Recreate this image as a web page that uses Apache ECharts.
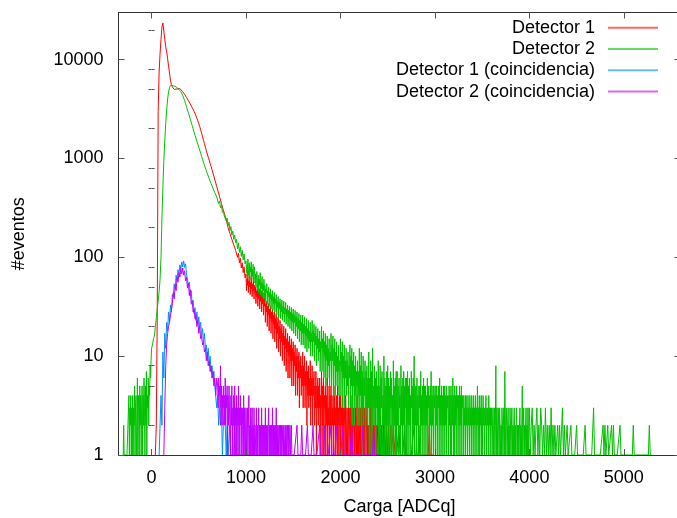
<!DOCTYPE html>
<html>
<head>
<meta charset="utf-8">
<script src="https://cdn.jsdelivr.net/npm/echarts@6/dist/echarts.min.js"></script>
<style>
html,body{margin:0;padding:0;background:#fff;}
#chart{width:677px;height:518px;}
</style>
</head>
<body>
<div id="chart"></div>
<script>
// X tick labels
const xTicks = [0, 1000, 2000, 3000, 4000, 5000];
// Y tick labels (log) and minor ticks
const yTicks = [1, 10, 100, 1000, 10000];
const yMinorTicks = [2, 5, 8, 20, 50, 80, 200, 500, 800, 2000, 5000, 8000, 20000];

const seriesNames = ['Detector 1', 'Detector 2', 'Detector 1 (coincidencia)', 'Detector 2 (coincidencia)'];

// ---- Detector 1 ----
// bins 40..990 ADCq, width 10
const det1Core = [
  1,2,25,3000,7500,11500,
  16000,21500,23500,19500,16000,13500,12000,10200,8600,7300,
  6200,5600,5300,5100,5000,4950,5000,5050,5100,5150,
  5100,5000,4900,4750,4600,4450,4300,4150,4000,3850,
  3700,3560,3420,3280,3140,3000,2850,2700,2550,2400,
  2250,2100,1950,1800,1660,1530,1410,1300,1200,1110,
  1030,960,890,830,770,715,660,610,565,520,
  480,445,410,380,350,325,300,280,260,242,
  232,200,200,174,178,152,158,134,140,118,
  122,100,110,88,98,78,88,70,80,62
];
// bins 1000..2595 ADCq, width 5
const det1Tail = [
  68,46,60,52,72,44,58,50,64,42,56,48,62,40,54,46,58,38,52,44,
  50,34,46,40,52,32,44,38,48,30,42,36,46,28,40,34,44,26,38,32,
  38,22,34,28,36,20,32,26,34,18,30,24,32,17,28,22,30,15,26,21,
  28,14,24,19,27,12,22,17,25,11,20,15,23,10,19,14,21,9,17,13,
  20,8,16,12,19,7,15,11,17,6,14,10,16,6,13,9,15,5,12,9,
  14,5,11,8,13,4,10,7,12,4,10,6,11,3,9,6,10,4,8,5,
  11,3,8,5,10,3,7,5,9,2,7,4,8,3,6,4,9,2,6,4,
  8,2,6,4,7,2,5,3,7,1,5,3,6,2,5,3,6,1,4,3,
  7,1,5,2,6,1,4,3,5,1,4,2,6,1,3,2,5,1,4,2,
  5,1,4,2,3,1,5,2,4,1,3,2,4,1,5,1,3,2,4,1,
  4,1,3,2,4,1,3,1,2,3,1,4,2,1,3,1,2,3,1,2,
  3,1,4,2,1,3,1,2,3,1,2,1,3,2,1,4,1,2,1,3,
  2,1,3,1,2,1,3,2,1,2,1,3,1,2,1,2,3,1,2,1,
  2,1,2,1,3,1,2,1,1,2,1,2,1,1,3,1,2,1,1,2,
  1,2,1,1,2,1,1,2,1,1,1,2,1,1,2,1,1,1,2,1,
  1,1,2,1,1,1,1,2,1,1,1,1,2,1,1,1,1,1,2,1
];
// bins 2600..2990 ADCq, width 10
const det1Sparse = [
  1,1,2,1,1,1,1,1,2,1, 1,1,1,1,1,1,1,1,2,1,
  1,1,1,2,1,1,1,1,1,1, 1,1,1,1,2,1,1,1,1,1
];

// ---- Detector 2 ----
// bins -300..-5 ADCq, width 5
const det2Left = [
  1,2,1,1,1,1,1,1,1,1,1,1,4,1,3,2,4,1,3,1,
  4,1,3,2,5,1,3,4,1,2,6,1,4,3,1,5,2,4,1,3,
  5,1,4,2,6,3,1,5,2,7,1,4,3,6,2,5,4,8,6,9
];
// bins 0..990 ADCq, width 10
const det2Core = [
  12,13,15,16,20,24,30,36,45,60,
  100,250,520,950,1500,2250,3100,4000,4700,5200,
  5500,5600,5550,5450,5400,5350,5300,5200,5100,5000,
  4900,4750,4550,4350,4100,3850,3600,3350,3100,2900,
  2700,2500,2320,2150,2000,1850,1720,1600,1490,1390,
  1300,1210,1130,1050,980,915,855,800,750,705,
  665,625,590,560,530,500,475,450,428,408,
  400,350,372,318,335,285,300,262,270,236,
  250,208,226,186,205,168,184,152,168,140,
  152,122,140,112,128,102,118,94,108,86
];
// bins 1000..3995 ADCq, width 5
const det2Tail = [
  92,70,84,62,96,74,66,88,58,80,71,90,60,76,64,85,57,72,80,55,
  68,50,62,72,46,58,66,44,60,52,70,42,56,48,64,40,54,46,60,38,
  52,36,48,44,54,34,46,40,50,32,44,38,48,30,42,36,46,29,40,34,
  44,28,38,34,42,26,36,31,40,25,35,30,38,24,34,28,37,23,32,27,
  36,22,31,27,35,21,30,25,33,20,29,24,32,19,28,23,31,18,27,22,
  30,17,26,22,29,16,25,20,28,15,24,19,27,14,23,18,26,13,22,17,
  26,13,21,17,25,12,20,16,24,11,19,15,23,12,18,14,22,10,17,14,
  23,10,18,14,21,9,17,13,20,8,16,12,19,9,15,11,18,7,14,12,
  20,7,15,11,18,6,14,10,17,5,13,9,16,6,12,8,15,5,11,9,
  17,5,13,9,16,4,12,8,15,4,11,7,14,5,10,7,13,4,9,8,
  15,4,11,7,14,3,10,6,13,3,9,6,12,4,9,5,11,3,8,6,
  13,3,10,5,12,2,9,5,11,2,8,4,10,3,7,5,9,2,7,4,
  12,2,8,4,11,1,7,3,10,2,6,4,9,1,7,3,8,2,6,3,
  11,1,6,3,9,1,7,2,12,1,5,3,8,2,6,1,7,3,5,2,
  9,1,5,2,8,1,6,3,7,1,4,2,10,1,6,2,5,1,7,2,
  8,1,6,2,5,1,7,3,6,1,4,2,9,1,5,2,6,1,7,1,
  7,2,5,1,6,3,4,1,8,2,5,1,6,2,7,1,5,3,6,1,
  6,1,7,2,5,1,6,2,4,1,7,3,5,1,6,2,10,1,5,2,
  5,1,6,2,4,1,5,3,5,1,7,2,4,1,5,2,6,1,5,2,
  5,1,4,2,6,1,5,3,4,1,5,2,7,1,4,2,5,1,5,3,
  4,1,5,2,5,1,4,3,5,1,6,2,4,1,5,2,4,1,5,2,
  5,1,4,2,5,1,4,3,4,1,5,2,4,1,5,1,4,2,6,1,
  4,1,5,2,4,1,5,3,4,1,4,2,5,1,4,2,5,1,4,3,
  4,1,3,2,4,1,4,2,3,1,4,2,3,1,4,2,3,1,4,2,
  3,1,4,2,3,1,4,2,3,1,5,2,3,1,4,1,3,2,4,1,
  3,1,4,2,3,1,3,2,4,1,3,2,3,1,4,2,3,1,3,2,
  3,1,2,3,1,2,3,1,2,8,1,3,2,1,3,2,1,3,2,1,
  2,1,3,2,1,2,3,1,7,2,1,3,2,1,2,3,1,2,1,3,
  2,1,2,3,1,2,1,2,3,1,2,1,2,3,1,2,1,2,1,2,
  3,1,2,1,2,5,1,2,3,1,2,1,2,3,1,2,1,3,1,2
];
// bins 4000..5290 ADCq, width 10
const det2Sparse = [
  3,1,2,3,1,2,1,2,3,1,
  2,1,3,2,1,2,1,3,1,2,
  1,2,1,3,1,2,1,2,1,1,
  2,1,2,1,1,3,1,2,1,1,
  2,1,1,1,2,1,1,1,1,1,
  2,1,1,1,1,1,1,1,1,2,
  1,1,1,1,1,1,1,1,3,1,
  1,1,1,1,1,1,1,1,2,1,
  2,1,1,2,1,1,1,2,1,2,
  1,1,1,1,1,1,2,1,1,1,
  1,1,1,1,1,1,1,1,1,1,
  2,1,1,1,1,1,1,1,1,1,
  1,1,1,1,1,1,1,2,1,1
];

// ---- Detector 1 (coincidencia) ----
// bins 80..970 ADCq, width 10
const det1CoincCounts = [
  1,1,4,2,11,6,17,12,22,18,
  28,22,33,28,42,40,54,48,66,58,
  75,66,84,76,90,80,92,79,86,68,
  70,52,56,41,46,33,37,27,31,23,
  28,21,25,19,22,16,19,14,17,12,
  13,9,12,8,10,7,8,6,7,5,
  5,3,4,2,3,2,3,1,2,3,
  2,1,2,1,1,2,1,1,1,1,
  2,1,1,1,1,1,1,1,1,1
];

// ---- Detector 2 (coincidencia) ----
// bins 130..690 ADCq, width 10
const det2CoincCore = [
  1,3,8,13,17,20,22,26,29,34,
  44,38,52,46,63,56,70,63,77,68,
  78,66,73,58,63,49,55,41,47,34,
  36,28,30,24,26,20,23,17,20,15,
  16,13,14,11,12,9,11,8,9,7,
  8,6,7,5,6,4,6
];
// bins 700..1495 ADCq, width 5
const det2CoincTail = [
  5,3,6,4,5,3,8,2,5,3,4,2,5,3,4,2,6,2,4,3,
  5,1,4,2,5,3,3,1,4,2,5,1,3,2,4,1,5,2,3,1,
  4,1,3,2,5,1,3,1,4,2,3,1,3,2,1,4,1,3,2,1,
  3,1,2,3,1,2,4,1,2,1,3,1,2,3,1,2,1,3,1,2,
  2,1,3,1,2,1,2,3,1,2,1,2,1,3,1,2,1,2,1,2,
  1,3,1,2,1,2,1,2,3,1,2,1,2,1,2,1,3,1,2,1,
  2,1,2,1,3,1,2,1,2,1,1,2,1,2,1,2,1,1,2,1,
  2,1,1,2,1,2,1,1,2,1,2,1,1,2,1,1,2,1,1,1
];
// bins 1500..2420 ADCq, width 10
const det2CoincSparse = [
  1,1,1,1,2,1,1,1,1,2,
  1,1,1,1,1,2,1,1,1,1,
  1,2,1,1,1,1,1,1,2,1,
  1,1,1,2,1,1,1,1,1,1,
  2,1,1,1,1,1,2,1,1,1,
  1,1,1,2,1,1,1,1,1,1,
  1,1,2,1,1,1,1,1,1,1,
  1,1,1,1,2,1,1,1,1,1,
  1,1,1,1,1,2,1,1,1,1,
  1,1,1
];

const colors = ['#ff0000', '#00c000', '#0090ff', '#c000ff'];

function toPairs(start, step, counts) {
  return counts.map(function (c, i) { return [start + i * step, c]; });
}

const det1Data = [].concat(toPairs(40, 10, det1Core), toPairs(1000, 5, det1Tail), toPairs(2600, 10, det1Sparse));
const det2Data = [].concat(toPairs(-300, 5, det2Left), toPairs(0, 10, det2Core), toPairs(1000, 5, det2Tail), toPairs(4000, 10, det2Sparse));
const det1CoincData = toPairs(80, 10, det1CoincCounts);
const det2CoincData = [].concat(toPairs(130, 10, det2CoincCore), toPairs(700, 5, det2CoincTail), toPairs(1500, 10, det2CoincSparse));

const FONT = '"Liberation Sans", Arial, Helvetica, sans-serif';
const X_MIN = -350, X_MAX = 5600, Y_MIN = 1, Y_MAX = 30000;

const chart = echarts.init(document.getElementById('chart'), null, {renderer: 'canvas'});

function logLabel(v) {
  const l = Math.log10(v);
  return Math.abs(l - Math.round(l)) < 1e-6 ? String(Math.round(v)) : '';
}
function plainLabel(v) { return String(v); }

const axisLineStyle = {color: '#333', width: 1};
const tickStyle = {color: '#555', width: 1};

const option = {
  animation: false,
  backgroundColor: '#ffffff',
  textStyle: {fontFamily: FONT},
  grid: {left: 118.5, right: -3.5, top: 12.5, bottom: 63, containLabel: false, outerBoundsMode: 'none'},
  legend: {
    orient: 'vertical', align: 'right', right: 19, top: 17, padding: 0,
    itemWidth: 50, itemHeight: 2, itemGap: 0, icon: 'rect',
    itemStyle: {opacity: 0.6},
    selectedMode: false,
    textStyle: {fontSize: 18, color: '#000', fontFamily: FONT, lineHeight: 21.3, padding: [0, 8, 0, 0]},
    data: seriesNames
  },
  xAxis: [
    {
      type: 'value', min: X_MIN, max: X_MAX, position: 'bottom', z: 10,
      axisLine: {show: true, onZero: false, lineStyle: axisLineStyle},
      axisTick: {show: true, inside: true, length: 6, lineStyle: tickStyle, customValues: xTicks},
      axisLabel: {show: true, customValues: xTicks, formatter: plainLabel, fontSize: 18, color: '#000', margin: 14, fontFamily: FONT},
      splitLine: {show: false},
      name: 'Carga [ADCq]', nameLocation: 'middle', nameGap: 43,
      nameTextStyle: {fontSize: 18, color: '#000', fontFamily: FONT}
    },
    {
      type: 'value', min: X_MIN, max: X_MAX, position: 'top', z: 10,
      axisLine: {show: true, onZero: false, lineStyle: axisLineStyle},
      axisTick: {show: true, inside: true, length: 6, lineStyle: tickStyle, customValues: xTicks},
      axisLabel: {show: false},
      splitLine: {show: false}
    }
  ],
  yAxis: [
    {
      type: 'log', logBase: 10, min: Y_MIN, max: Y_MAX, position: 'left', z: 10,
      axisLine: {show: true, onZero: false, lineStyle: axisLineStyle},
      axisTick: {show: true, inside: true, length: 6, lineStyle: tickStyle, customValues: yTicks},
      axisLabel: {show: true, customValues: yTicks, formatter: logLabel, fontSize: 18, color: '#000', margin: 15, fontFamily: FONT},
      splitLine: {show: false},
      name: '#eventos', nameLocation: 'middle', nameGap: 90,
      nameTextStyle: {fontSize: 18, color: '#000', fontFamily: FONT}
    },
    {
      type: 'log', logBase: 10, min: Y_MIN, max: Y_MAX, position: 'left', z: 10,
      axisLine: {show: false},
      axisTick: {show: true, inside: true, length: 3, lineStyle: tickStyle, customValues: yMinorTicks},
      axisLabel: {show: false},
      splitLine: {show: false}
    },
    {
      type: 'log', logBase: 10, min: Y_MIN, max: Y_MAX, position: 'right', z: 10,
      axisLine: {show: true, onZero: false, lineStyle: axisLineStyle},
      axisTick: {show: true, inside: true, length: 6, lineStyle: tickStyle, customValues: yTicks},
      axisLabel: {show: false},
      splitLine: {show: false}
    },
    {
      type: 'log', logBase: 10, min: Y_MIN, max: Y_MAX, position: 'right', z: 10,
      axisLine: {show: false},
      axisTick: {show: true, inside: true, length: 3, lineStyle: tickStyle, customValues: yMinorTicks},
      axisLabel: {show: false},
      splitLine: {show: false}
    }
  ],
  series: [
    {name: seriesNames[0], data: det1Data, color: colors[0]},
    {name: seriesNames[1], data: det2Data, color: colors[1]},
    {name: seriesNames[2], data: det1CoincData, color: colors[2]},
    {name: seriesNames[3], data: det2CoincData, color: colors[3]}
  ].map(function (s) {
    return Object.assign({
      type: 'line', xAxisIndex: 0, yAxisIndex: 0, symbol: 'none', showSymbol: false,
      clip: true, z: 2, silent: true,
      lineStyle: {width: 1, color: s.color}, itemStyle: {color: s.color}
    }, s);
  })
};

chart.setOption(option);
</script>
</body>
</html>
